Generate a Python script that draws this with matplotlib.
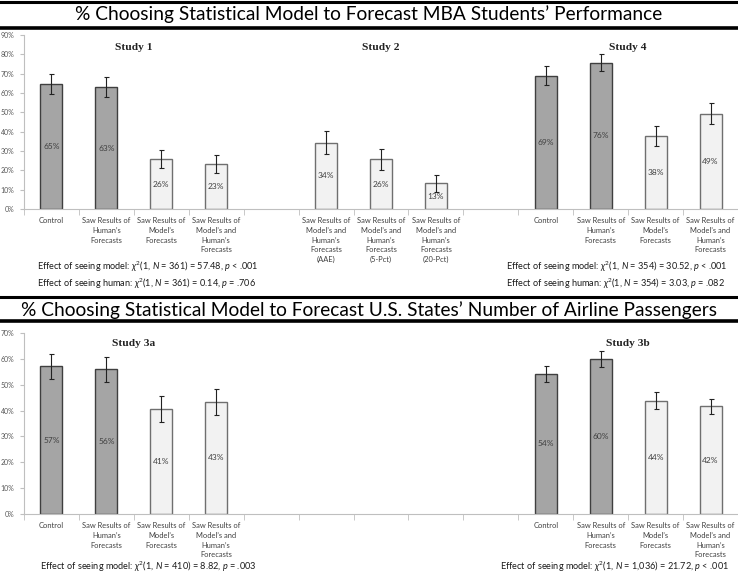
import matplotlib
matplotlib.use("Agg")
import matplotlib.pyplot as plt
from matplotlib.lines import Line2D

plt.rcParams['font.family'] = ['Lato', 'DejaVu Sans']
plt.rcParams['mathtext.fontset'] = 'custom'
plt.rcParams['mathtext.rm'] = 'Lato'
plt.rcParams['mathtext.it'] = 'Lato:italic'
plt.rcParams['mathtext.bf'] = 'Lato:bold'
plt.rcParams['mathtext.fallback'] = 'stixsans'

# ---- data ----
cat_control = 'Control'
cat_human = 'Saw Results of\nHuman’s\nForecasts'
cat_model = 'Saw Results of\nModel’s\nForecasts'
cat_both = 'Saw Results of\nModel’s and\nHuman’s\nForecasts'
cat_aae = 'Saw Results of\nModel’s and\nHuman’s\nForecasts\n(AAE)'
cat_5pct = 'Saw Results of\nModel’s and\nHuman’s\nForecasts\n(5-Pct)'
cat_20pct = 'Saw Results of\nModel’s and\nHuman’s\nForecasts\n(20-Pct)'

study1_vals = [64.7, 63.1, 25.7, 23.4]
study1_err = [5.0, 5.2, 4.7, 4.6]
study2_vals = [34.3, 25.7, 13.3]
study2_err = [6.0, 5.3, 4.5]
study4_vals = [69.0, 75.7, 37.8, 49.3]
study4_err = [5.0, 4.5, 5.1, 5.3]
study3a_vals = [57.1, 56.0, 40.6, 43.4]
study3a_err = [4.9, 4.8, 5.0, 5.0]
study3b_vals = [54.2, 60.1, 43.8, 41.6]
study3b_err = [3.2, 3.1, 3.2, 2.8]

four_cats = [cat_control, cat_human, cat_model, cat_both]
four_dark = [True, True, False, False]
study2_cats = [cat_aae, cat_5pct, cat_20pct]

title_top = '% Choosing Statistical Model to Forecast MBA Students’ Performance'
title_bottom = '% Choosing Statistical Model to Forecast U.S. States’ Number of Airline Passengers'

stats_study1 = [r'Effect of seeing model: $\chi^2$(1, $N$ = 361) = 57.48, $p$ < .001',
                r'Effect of seeing human: $\chi^2$(1, $N$ = 361) = 0.14, $p$ = .706']
stats_study4 = [r'Effect of seeing model: $\chi^2$(1, $N$ = 354) = 30.52, $p$ < .001',
                r'Effect of seeing human: $\chi^2$(1, $N$ = 354) = 3.03, $p$ = .082']
stats_study3a = [r'Effect of seeing model: $\chi^2$(1, $N$ = 410) = 8.82, $p$ = .003']
stats_study3b = [r'Effect of seeing model: $\chi^2$(1, $N$ = 1,036) = 21.72, $p$ < .001']

W, H = 738, 576
DARK = '#a5a5a5'
LIGHT = '#f2f2f2'
N_SLOTS = 13
STAT_SIZE = 6.6

fig = plt.figure(figsize=(W / 100, H / 100), dpi=100)
fig.patch.set_facecolor('white')


def fx(px):
    return px / W


def fy(py):
    return 1 - py / H


def band(y_top, y_bot, title, ty, size):
    fig.add_artist(Line2D([0, 1], [fy(y_top), fy(y_top)], color='black', lw=2.2))
    fig.add_artist(Line2D([0, 1], [fy(y_bot), fy(y_bot)], color='black', lw=2.6))
    fig.text(0.5, fy(ty), title, ha='center', va='center', fontsize=size, color='black')


def draw_group(ax, start, vals, errs, darks):
    xs = [start + i for i in range(len(vals))]
    colors = [DARK if d else LIGHT for d in darks]
    edges = ['#3f3f3f' if d else '#6f6f6f' for d in darks]
    ax.bar(xs, vals, width=0.4, color=colors, edgecolor=edges, linewidth=1.0, zorder=2)
    ax.errorbar(xs, vals, yerr=errs, fmt='none', ecolor='#222222', elinewidth=0.8,
                capsize=1.8, capthick=0.8, zorder=3)
    for x, v in zip(xs, vals):
        ax.text(x, v / 2, f'{round(v)}%', ha='center', va='center', fontsize=6,
                color='#404040', zorder=4)


def setup_axes(rect, ymax, labels):
    ax = fig.add_axes(rect)
    ax.set_xlim(-0.5, N_SLOTS - 0.5)
    ax.set_ylim(0, ymax)
    ax.set_yticks(range(0, ymax + 1, 10))
    ax.set_yticklabels([f'{t}%' for t in range(0, ymax + 1, 10)])
    ax.set_xticks(range(N_SLOTS))
    ax.set_xticklabels(labels, fontsize=5.4, color='#404040', linespacing=1.45)
    ax.set_xticks([k - 0.5 for k in range(N_SLOTS + 1)], minor=True)
    ax.tick_params(axis='x', which='major', length=0, pad=6)
    ax.tick_params(axis='x', which='minor', length=4, color='#bfbfbf', direction='out')
    ax.tick_params(axis='y', length=3, color='#bfbfbf', labelsize=5, labelcolor='#595959', pad=4)
    for s in ['top', 'right']:
        ax.spines[s].set_visible(False)
    ax.spines['left'].set_color('#bfbfbf')
    ax.spines['bottom'].set_color('#bfbfbf')
    ax.patch.set_alpha(0)
    return ax


# ---- top panel ----
band(1.5, 28, title_top, 14.5, 13.8)
top_labels = four_cats + [''] + study2_cats + [''] + four_cats
ax1 = setup_axes([fx(24), fy(209), fx(714), (209 - 35) / H], 90, top_labels)
draw_group(ax1, 0, study1_vals, study1_err, four_dark)
draw_group(ax1, 5, study2_vals, study2_err, [False, False, False])
draw_group(ax1, 9, study4_vals, study4_err, four_dark)
for cx, name in [(1.5, 'Study 1'), (6.0, 'Study 2'), (10.5, 'Study 4')]:
    ax1.text(cx, 83.5, name, ha='center', va='center', fontsize=8.2, fontweight='bold',
             family='Liberation Serif', color='#222222')

for i, s in enumerate(stats_study1):
    fig.text(fx(37), fy(267 + 17 * i), s, ha='left', va='center', fontsize=STAT_SIZE, color='#1a1a1a')
for i, s in enumerate(stats_study4):
    fig.text(fx(506), fy(267 + 17 * i), s, ha='left', va='center', fontsize=STAT_SIZE, color='#1a1a1a')

# ---- bottom panel ----
band(297, 321, title_bottom, 310, 13.8)
bottom_labels = four_cats + [''] * 5 + four_cats
ax2 = setup_axes([fx(24), fy(514), fx(714), (514 - 333) / H], 70, bottom_labels)
draw_group(ax2, 0, study3a_vals, study3a_err, four_dark)
draw_group(ax2, 9, study3b_vals, study3b_err, four_dark)
for cx, name in [(1.5, 'Study 3a'), (10.5, 'Study 3b')]:
    ax2.text(cx, 66, name, ha='center', va='center', fontsize=8.2, fontweight='bold',
             family='Liberation Serif', color='#222222')

fig.text(fx(40), fy(567), stats_study3a[0], ha='left', va='center', fontsize=STAT_SIZE, color='#1a1a1a')
fig.text(fx(500), fy(567), stats_study3b[0], ha='left', va='center', fontsize=STAT_SIZE, color='#1a1a1a')

fig.savefig('out.png', dpi=100)
